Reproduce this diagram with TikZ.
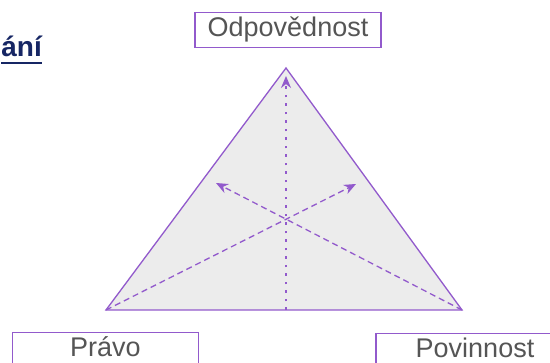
\documentclass[tikz,border=0pt]{standalone}
\usepackage{fontspec}
\setmainfont{Liberation Sans}
\usetikzlibrary{arrows.meta,positioning,calc}
\definecolor{violetline}{RGB}{146,90,204}
\definecolor{labelgray}{RGB}{85,85,85}
\definecolor{titlenavy}{RGB}{22,38,100}
\definecolor{trifill}{RGB}{236,236,236}

\begin{document}
\begin{tikzpicture}[
  x=1pt,y=-1pt,
  labelbox/.style={rectangle,draw=violetline,line width=1.2pt,minimum width=186pt,minimum height=35pt,
                   inner sep=0pt,text height=20pt,text depth=6pt,text=labelgray,
                   font=\fontsize{27}{30}\selectfont},
  tri/.style={draw=violetline,line width=1.3pt,fill=trifill,line join=miter},
  flow/.style={violetline,line width=1.3pt,dash pattern=on 6pt off 4pt,-{Stealth[length=12pt,width=10pt]}},
  dotflow/.style={flow,dash pattern=on 2.5pt off 6pt}
]
  \useasboundingbox (0,0) rectangle (550,363);
  \fill[white] (0,0) rectangle (550,363);

  \node[anchor=base east,inner sep=0pt,text=titlenavy,font=\bfseries\fontsize{28}{32}\selectfont]
    (title) at (42,57) {ání};
  \draw[titlenavy,line width=2.6pt] ($(title.base west)+(0,6)$) -- ($(title.base east)+(0,6)$);

  \coordinate (apex) at (286,68);
  \coordinate (cornerL) at (106,310);
  \coordinate (cornerR) at (462,310);
  \coordinate (base) at (286,310);
  \coordinate (tipUp) at (286,76);
  \coordinate (tipL) at (216,183);
  \coordinate (tipR) at (356,184);

  \draw[tri] (apex) -- (cornerL) -- (cornerR) -- cycle;
  \draw[dotflow] (base) -- (tipUp);
  \draw[flow] (cornerR) -- (tipL);
  \draw[flow] (cornerL) -- (tipR);

  \node[labelbox] (resp) at (288,30) {Odpovědnost};
  \node[labelbox] (law) at (105.5,350) {Právo};
  \node[labelbox,minimum width=198pt] (duty) at (475,351) {Povinnost};
\end{tikzpicture}
\end{document}
